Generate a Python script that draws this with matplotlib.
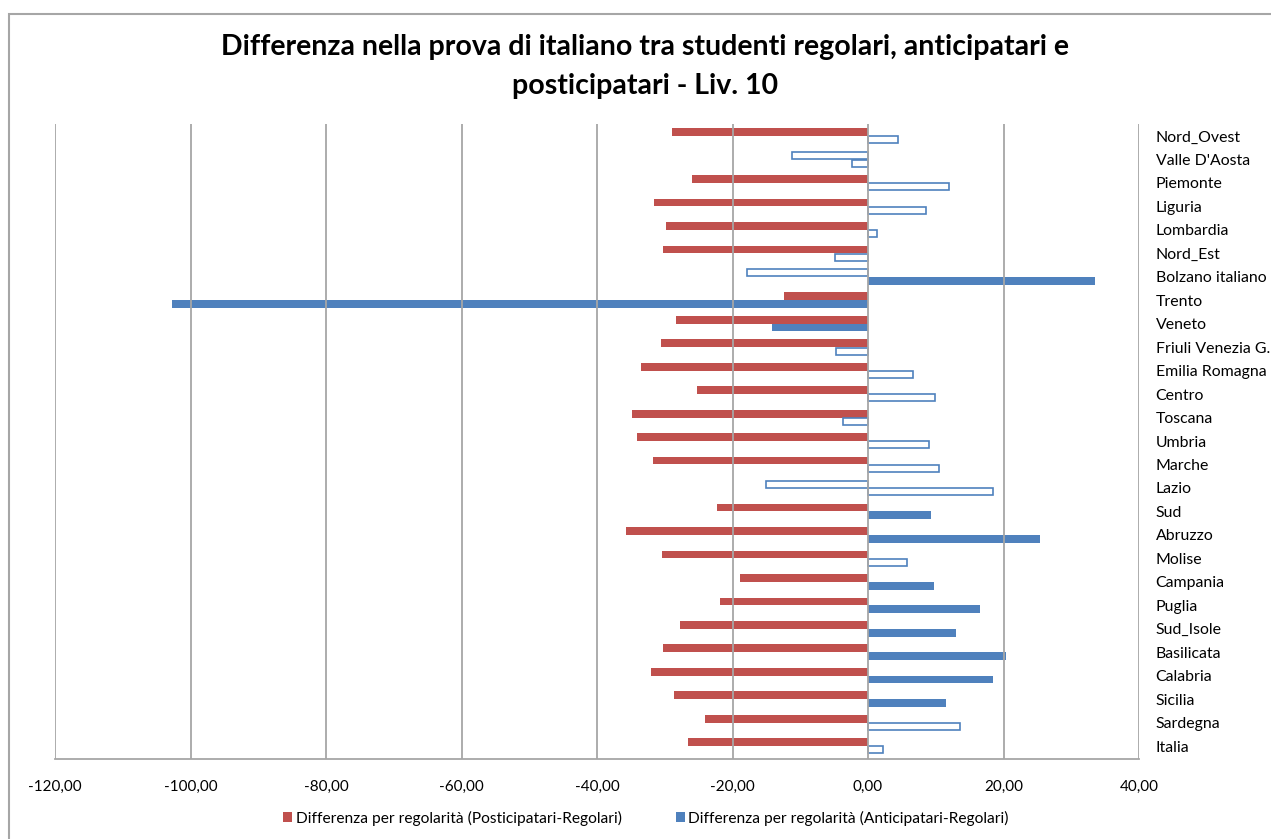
import matplotlib.pyplot as plt
from matplotlib.patches import Patch, Rectangle
import numpy as np

plt.rcParams['font.family'] = ['Lato', 'DejaVu Sans']

#%% Data
regions = ['Nord_Ovest', "Valle D'Aosta", 'Piemonte', 'Liguria', 'Lombardia',
           'Nord_Est', 'Bolzano italiano', 'Trento', 'Veneto',
           'Friuli Venezia G.', 'Emilia Romagna', 'Centro', 'Toscana',
           'Umbria', 'Marche', 'Lazio', 'Sud', 'Abruzzo', 'Molise',
           'Campania', 'Puglia', 'Sud_Isole', 'Basilicata', 'Calabria',
           'Sicilia', 'Sardegna', 'Italia']

# Posticipatari - Regolari
post_reg = [-28.9, -11.2, -26.0, -31.6, -29.8, -30.2, -17.8, -12.4, -28.3,
            -30.6, -33.5, -25.2, -34.9, -34.1, -31.7, -15.1, -22.3, -35.7,
            -30.4, -18.9, -21.9, -27.7, -30.2, -32.0, -28.7, -24.1, -26.6]
post_sig = [1, 0, 1, 1, 1, 1, 0, 1, 1,
            1, 1, 1, 1, 1, 1, 0, 1, 1,
            1, 1, 1, 1, 1, 1, 1, 1, 1]

# Anticipatari - Regolari
anti_reg = [4.4, -2.3, 12.0, 8.5, 1.3, -4.9, 33.5, -102.7, -14.2,
            -4.7, 6.6, 9.9, -3.7, 9.0, 10.5, 18.4, 9.3, 25.4,
            5.7, 9.7, 16.5, 13.0, 20.4, 18.4, 11.5, 13.6, 2.2]
anti_sig = [0, 0, 0, 0, 0, 0, 1, 1, 1,
            0, 0, 0, 0, 0, 0, 0, 1, 1,
            0, 1, 1, 1, 1, 1, 1, 0, 0]

x_ticks = [-120, -100, -80, -60, -40, -20, 0, 20, 40]

red = '#C0504D'
blue = '#4F81BD'
grid_col = '#A6A6A6'

#%% Plot
fig = plt.figure(figsize=(12.71, 8.39), dpi=100)
ax = fig.add_axes([55/1271, 1-759/839, (1139-55)/1271, (759-124)/839])

y = np.arange(len(regions))
h = 0.33

for yy, val, sig in zip(y, post_reg, post_sig):
    if sig:
        ax.barh(yy - h/2, val, height=h, color=red, zorder=2)
    else:
        ax.barh(yy - h/2, val, height=h*0.9, color='white',
                edgecolor=blue, linewidth=1.2, zorder=2)

for yy, val, sig in zip(y, anti_reg, anti_sig):
    if sig:
        ax.barh(yy + h/2, val, height=h, color=blue, zorder=2)
    else:
        ax.barh(yy + h/2, val, height=h*0.9, color='white',
                edgecolor=blue, linewidth=1.2, zorder=2)

ax.set_xlim(-120, 40)
ax.set_ylim(len(regions) - 0.45, -0.51)

ax.set_xticks(x_ticks)
ax.set_xticklabels([('%.2f' % t).replace('.', ',') for t in x_ticks])
ax.tick_params(axis='x', length=0, pad=15, labelsize=11)

ax.yaxis.tick_right()
ax.set_yticks(y)
ax.set_yticklabels(regions)
ax.tick_params(axis='y', length=0, pad=12, labelsize=11.4)

for t in x_ticks:
    ax.axvline(t, color=grid_col, linewidth=1.3, zorder=3)

for s in ['top', 'right', 'left']:
    ax.spines[s].set_visible(False)
ax.spines['bottom'].set_color(grid_col)
ax.spines['bottom'].set_linewidth(1.3)
ax.spines['bottom'].set_zorder(3)

# Title
fig.text(645/1271, 1-47/839,
         'Differenza nella prova di italiano tra studenti regolari, anticipatari e',
         ha='center', va='center', fontsize=20.5, fontweight='bold')
fig.text(645/1271, 1-86/839, 'posticipatari - Liv. 10',
         ha='center', va='center', fontsize=20.5, fontweight='bold')

# Legend
handles = [Patch(facecolor=red), Patch(facecolor=blue)]
labels = ['Differenza per regolarità (Posticipatari-Regolari)',
          'Differenza per regolarità (Anticipatari-Regolari)']
fig.legend(handles, labels, ncol=2, loc='center',
           bbox_to_anchor=(646/1271, 1-818/839), frameon=False,
           fontsize=11.2, handlelength=0.6, handleheight=0.6,
           handletextpad=0.2, columnspacing=3.5)

# Chart border
fig.patches.append(Rectangle((9/1271, -0.05), 1.1, 1-14/839+0.05,
                             transform=fig.transFigure, fill=False,
                             edgecolor=grid_col, linewidth=1.5))

fig.savefig('out.png', dpi=100)
